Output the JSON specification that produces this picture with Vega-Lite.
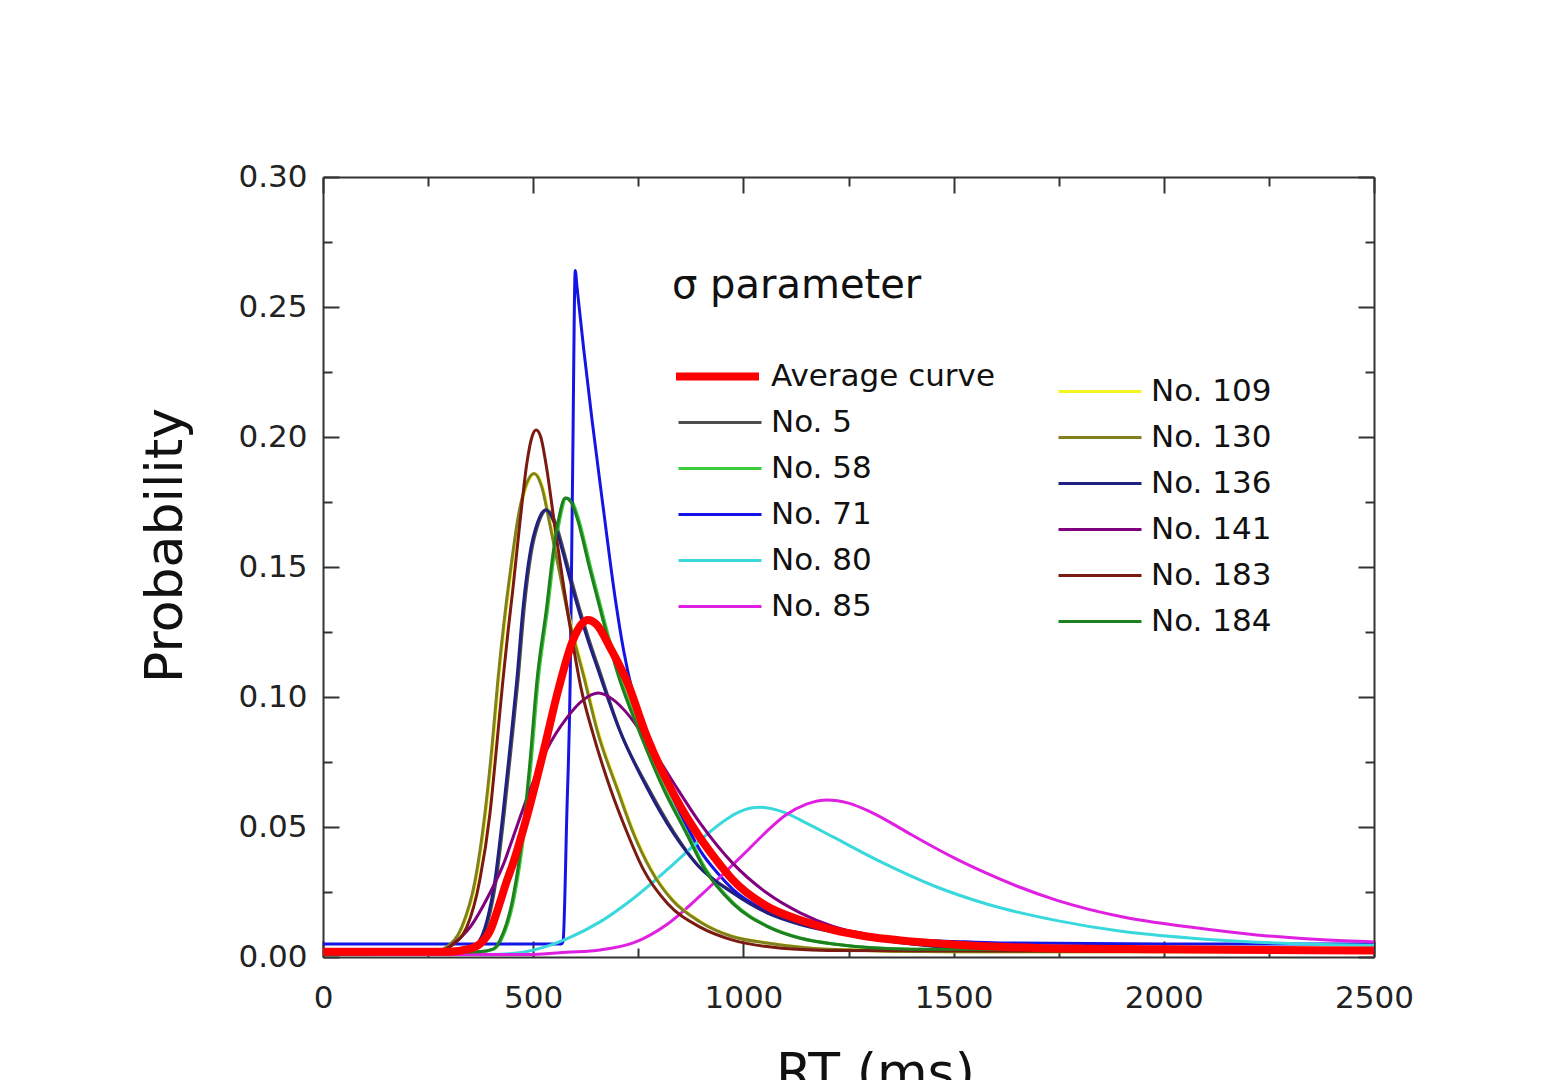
{
  "$schema": "https://vega.github.io/schema/vega-lite/v6.json",
  "width": 1051,
  "height": 780,
  "autosize": {"type": "none"},
  "padding": {"left": 323, "top": 177, "right": 171, "bottom": 123},
  "background": "white",
  "config": {
    "view": {"stroke": null},
    "legend": {"padding": 0, "labelFont": "DejaVu Sans", "labelFontSize": 31, "labelColor": "#111111", "labelOffset": 8, "symbolType": "stroke", "symbolSize": 6889, "clipHeight": 31, "rowPadding": 14, "titleFont": "DejaVu Sans", "titleFontSize": 40, "titleFontWeight": "normal", "titleColor": "#111111", "titlePadding": 55, "titleLimit": 600, "labelLimit": 600},
    "axis": {"grid": false, "domainColor": "#333333", "domainWidth": 2, "tickColor": "#333333", "tickWidth": 2, "labelFont": "DejaVu Sans", "labelFontSize": 31, "labelColor": "#222222", "labelFlush": false, "labelOverlap": false, "titleFont": "DejaVu Sans", "titleFontWeight": "normal", "titleColor": "#111111"}
  },
  "data": {"values": [
    {"s":"Average curve","x":0,"y":0.002},{"s":"Average curve","x":300,"y":0.002},{"s":"Average curve","x":345,"y":0.003},{"s":"Average curve","x":373,"y":0.005},{"s":"Average curve","x":400,"y":0.011},{"s":"Average curve","x":413,"y":0.017},{"s":"Average curve","x":438,"y":0.0296},{"s":"Average curve","x":452,"y":0.036},{"s":"Average curve","x":485,"y":0.054},{"s":"Average curve","x":523,"y":0.078},{"s":"Average curve","x":560,"y":0.103},{"s":"Average curve","x":595,"y":0.122},{"s":"Average curve","x":615,"y":0.128},{"s":"Average curve","x":630,"y":0.1296},{"s":"Average curve","x":650,"y":0.128},{"s":"Average curve","x":683,"y":0.119},{"s":"Average curve","x":723,"y":0.106},{"s":"Average curve","x":771,"y":0.0845},{"s":"Average curve","x":825,"y":0.0655},{"s":"Average curve","x":880,"y":0.05},{"s":"Average curve","x":937,"y":0.037},{"s":"Average curve","x":975,"y":0.0296},{"s":"Average curve","x":1056,"y":0.0195},{"s":"Average curve","x":1135,"y":0.0142},{"s":"Average curve","x":1213,"y":0.0104},{"s":"Average curve","x":1294,"y":0.0079},{"s":"Average curve","x":1373,"y":0.0064},{"s":"Average curve","x":1500,"y":0.0048},{"s":"Average curve","x":1700,"y":0.0035},{"s":"Average curve","x":2000,"y":0.003},{"s":"Average curve","x":2500,"y":0.0025},

    {"s":"No. 5","x":0,"y":0.001},{"s":"No. 5","x":333,"y":0.002},{"s":"No. 5","x":369,"y":0.005},{"s":"No. 5","x":393,"y":0.014},{"s":"No. 5","x":412,"y":0.0296},{"s":"No. 5","x":431,"y":0.055},{"s":"No. 5","x":448,"y":0.081},{"s":"No. 5","x":464,"y":0.1065},{"s":"No. 5","x":479,"y":0.1346},{"s":"No. 5","x":495,"y":0.155},{"s":"No. 5","x":513,"y":0.167},{"s":"No. 5","x":533,"y":0.172},{"s":"No. 5","x":553,"y":0.167},{"s":"No. 5","x":573,"y":0.156},{"s":"No. 5","x":591,"y":0.145},{"s":"No. 5","x":631,"y":0.123},{"s":"No. 5","x":655,"y":0.1115},{"s":"No. 5","x":709,"y":0.086},{"s":"No. 5","x":774,"y":0.065},{"s":"No. 5","x":836,"y":0.0477},{"s":"No. 5","x":893,"y":0.035},{"s":"No. 5","x":978,"y":0.0246},{"s":"No. 5","x":1059,"y":0.017},{"s":"No. 5","x":1138,"y":0.013},{"s":"No. 5","x":1257,"y":0.0085},{"s":"No. 5","x":1403,"y":0.005},{"s":"No. 5","x":1603,"y":0.003},{"s":"No. 5","x":2500,"y":0.002},

    {"s":"No. 58","x":0,"y":0.001},{"s":"No. 58","x":373,"y":0.002},{"s":"No. 58","x":407,"y":0.003},{"s":"No. 58","x":424,"y":0.0065},{"s":"No. 58","x":455,"y":0.023},{"s":"No. 58","x":479,"y":0.0488},{"s":"No. 58","x":495,"y":0.0746},{"s":"No. 58","x":512,"y":0.1065},{"s":"No. 58","x":535,"y":0.1346},{"s":"No. 58","x":550,"y":0.155},{"s":"No. 58","x":563,"y":0.168},{"s":"No. 58","x":579,"y":0.1765},{"s":"No. 58","x":593,"y":0.175},{"s":"No. 58","x":607,"y":0.169},{"s":"No. 58","x":638,"y":0.149},{"s":"No. 58","x":669,"y":0.1296},{"s":"No. 58","x":702,"y":0.11},{"s":"No. 58","x":757,"y":0.086},{"s":"No. 58","x":812,"y":0.065},{"s":"No. 58","x":869,"y":0.047},{"s":"No. 58","x":908,"y":0.0345},{"s":"No. 58","x":978,"y":0.0205},{"s":"No. 58","x":1059,"y":0.0118},{"s":"No. 58","x":1138,"y":0.0072},{"s":"No. 58","x":1216,"y":0.005},{"s":"No. 58","x":1403,"y":0.003},{"s":"No. 58","x":2500,"y":0.0025},

    {"s":"No. 71","x":0,"y":0.005},{"s":"No. 71","x":566,"y":0.005},{"s":"No. 71","x":571,"y":0.006},{"s":"No. 71","x":580,"y":0.055},{"s":"No. 71","x":588,"y":0.1065},{"s":"No. 71","x":594,"y":0.19},{"s":"No. 71","x":600,"y":0.264},{"s":"No. 71","x":604,"y":0.258},{"s":"No. 71","x":620,"y":0.234},{"s":"No. 71","x":640,"y":0.2065},{"s":"No. 71","x":668,"y":0.171},{"s":"No. 71","x":695,"y":0.138},{"s":"No. 71","x":715,"y":0.118},{"s":"No. 71","x":737,"y":0.1015},{"s":"No. 71","x":760,"y":0.089},{"s":"No. 71","x":790,"y":0.076},{"s":"No. 71","x":830,"y":0.062},{"s":"No. 71","x":870,"y":0.049},{"s":"No. 71","x":897,"y":0.041},{"s":"No. 71","x":940,"y":0.032},{"s":"No. 71","x":975,"y":0.026},{"s":"No. 71","x":1056,"y":0.0175},{"s":"No. 71","x":1135,"y":0.0128},{"s":"No. 71","x":1254,"y":0.0088},{"s":"No. 71","x":1373,"y":0.0069},{"s":"No. 71","x":1500,"y":0.006},{"s":"No. 71","x":1610,"y":0.0054},{"s":"No. 71","x":2000,"y":0.005},{"s":"No. 71","x":2500,"y":0.005},

    {"s":"No. 80","x":0,"y":0.001},{"s":"No. 80","x":400,"y":0.001},{"s":"No. 80","x":461,"y":0.0015},{"s":"No. 80","x":520,"y":0.0035},{"s":"No. 80","x":580,"y":0.007},{"s":"No. 80","x":659,"y":0.0135},{"s":"No. 80","x":738,"y":0.0225},{"s":"No. 80","x":818,"y":0.0335},{"s":"No. 80","x":897,"y":0.045},{"s":"No. 80","x":960,"y":0.053},{"s":"No. 80","x":990,"y":0.0558},{"s":"No. 80","x":1015,"y":0.0572},{"s":"No. 80","x":1040,"y":0.0576},{"s":"No. 80","x":1065,"y":0.0571},{"s":"No. 80","x":1094,"y":0.0558},{"s":"No. 80","x":1150,"y":0.0515},{"s":"No. 80","x":1213,"y":0.0462},{"s":"No. 80","x":1332,"y":0.0362},{"s":"No. 80","x":1451,"y":0.0275},{"s":"No. 80","x":1587,"y":0.02},{"s":"No. 80","x":1746,"y":0.014},{"s":"No. 80","x":1903,"y":0.0098},{"s":"No. 80","x":2062,"y":0.0073},{"s":"No. 80","x":2221,"y":0.0057},{"s":"No. 80","x":2379,"y":0.0048},{"s":"No. 80","x":2500,"y":0.0045},

    {"s":"No. 85","x":0,"y":0.001},{"s":"No. 85","x":500,"y":0.001},{"s":"No. 85","x":580,"y":0.0018},{"s":"No. 85","x":659,"y":0.0027},{"s":"No. 85","x":738,"y":0.0054},{"s":"No. 85","x":818,"y":0.0125},{"s":"No. 85","x":897,"y":0.0235},{"s":"No. 85","x":975,"y":0.0355},{"s":"No. 85","x":1016,"y":0.042},{"s":"No. 85","x":1056,"y":0.0484},{"s":"No. 85","x":1100,"y":0.0545},{"s":"No. 85","x":1150,"y":0.0588},{"s":"No. 85","x":1199,"y":0.0604},{"s":"No. 85","x":1250,"y":0.0592},{"s":"No. 85","x":1300,"y":0.056},{"s":"No. 85","x":1350,"y":0.0517},{"s":"No. 85","x":1400,"y":0.047},{"s":"No. 85","x":1451,"y":0.0424},{"s":"No. 85","x":1500,"y":0.0382},{"s":"No. 85","x":1570,"y":0.0328},{"s":"No. 85","x":1650,"y":0.0273},{"s":"No. 85","x":1746,"y":0.0218},{"s":"No. 85","x":1903,"y":0.0154},{"s":"No. 85","x":2062,"y":0.0115},{"s":"No. 85","x":2221,"y":0.0085},{"s":"No. 85","x":2379,"y":0.0066},{"s":"No. 85","x":2500,"y":0.0058},

    {"s":"No. 109","x":0,"y":0.002},{"s":"No. 109","x":262,"y":0.002},{"s":"No. 109","x":297,"y":0.004},{"s":"No. 109","x":332,"y":0.0115},{"s":"No. 109","x":364,"y":0.0296},{"s":"No. 109","x":387,"y":0.055},{"s":"No. 109","x":404,"y":0.081},{"s":"No. 109","x":418,"y":0.1065},{"s":"No. 109","x":432,"y":0.128},{"s":"No. 109","x":449,"y":0.15},{"s":"No. 109","x":467,"y":0.17},{"s":"No. 109","x":486,"y":0.182},{"s":"No. 109","x":504,"y":0.186},{"s":"No. 109","x":522,"y":0.181},{"s":"No. 109","x":542,"y":0.166},{"s":"No. 109","x":562,"y":0.15},{"s":"No. 109","x":587,"y":0.13},{"s":"No. 109","x":622,"y":0.108},{"s":"No. 109","x":656,"y":0.086},{"s":"No. 109","x":701,"y":0.065},{"s":"No. 109","x":740,"y":0.0477},{"s":"No. 109","x":780,"y":0.034},{"s":"No. 109","x":832,"y":0.022},{"s":"No. 109","x":899,"y":0.0135},{"s":"No. 109","x":977,"y":0.0078},{"s":"No. 109","x":1058,"y":0.0054},{"s":"No. 109","x":1202,"y":0.003},{"s":"No. 109","x":1502,"y":0.002},{"s":"No. 109","x":2500,"y":0.002},

    {"s":"No. 130","x":0,"y":0.002},{"s":"No. 130","x":260,"y":0.002},{"s":"No. 130","x":295,"y":0.004},{"s":"No. 130","x":330,"y":0.0115},{"s":"No. 130","x":362,"y":0.0296},{"s":"No. 130","x":385,"y":0.055},{"s":"No. 130","x":402,"y":0.081},{"s":"No. 130","x":416,"y":0.1065},{"s":"No. 130","x":430,"y":0.128},{"s":"No. 130","x":447,"y":0.15},{"s":"No. 130","x":465,"y":0.17},{"s":"No. 130","x":484,"y":0.182},{"s":"No. 130","x":502,"y":0.186},{"s":"No. 130","x":520,"y":0.181},{"s":"No. 130","x":540,"y":0.166},{"s":"No. 130","x":560,"y":0.15},{"s":"No. 130","x":585,"y":0.13},{"s":"No. 130","x":620,"y":0.108},{"s":"No. 130","x":654,"y":0.086},{"s":"No. 130","x":699,"y":0.065},{"s":"No. 130","x":738,"y":0.0477},{"s":"No. 130","x":778,"y":0.034},{"s":"No. 130","x":830,"y":0.022},{"s":"No. 130","x":897,"y":0.0135},{"s":"No. 130","x":975,"y":0.0078},{"s":"No. 130","x":1056,"y":0.0054},{"s":"No. 130","x":1200,"y":0.003},{"s":"No. 130","x":1500,"y":0.002},{"s":"No. 130","x":2500,"y":0.002},

    {"s":"No. 136","x":0,"y":0.001},{"s":"No. 136","x":330,"y":0.002},{"s":"No. 136","x":366,"y":0.005},{"s":"No. 136","x":390,"y":0.014},{"s":"No. 136","x":409,"y":0.0296},{"s":"No. 136","x":428,"y":0.055},{"s":"No. 136","x":445,"y":0.081},{"s":"No. 136","x":461,"y":0.1065},{"s":"No. 136","x":476,"y":0.1346},{"s":"No. 136","x":492,"y":0.155},{"s":"No. 136","x":510,"y":0.167},{"s":"No. 136","x":530,"y":0.172},{"s":"No. 136","x":550,"y":0.167},{"s":"No. 136","x":570,"y":0.156},{"s":"No. 136","x":588,"y":0.145},{"s":"No. 136","x":628,"y":0.123},{"s":"No. 136","x":652,"y":0.1115},{"s":"No. 136","x":706,"y":0.087},{"s":"No. 136","x":771,"y":0.065},{"s":"No. 136","x":833,"y":0.0477},{"s":"No. 136","x":890,"y":0.0355},{"s":"No. 136","x":975,"y":0.0246},{"s":"No. 136","x":1056,"y":0.017},{"s":"No. 136","x":1135,"y":0.0125},{"s":"No. 136","x":1254,"y":0.0085},{"s":"No. 136","x":1400,"y":0.005},{"s":"No. 136","x":1600,"y":0.003},{"s":"No. 136","x":2500,"y":0.002},

    {"s":"No. 141","x":0,"y":0.001},{"s":"No. 141","x":280,"y":0.002},{"s":"No. 141","x":309,"y":0.005},{"s":"No. 141","x":350,"y":0.0115},{"s":"No. 141","x":397,"y":0.0246},{"s":"No. 141","x":430,"y":0.036},{"s":"No. 141","x":452,"y":0.046},{"s":"No. 141","x":485,"y":0.061},{"s":"No. 141","x":533,"y":0.08},{"s":"No. 141","x":580,"y":0.092},{"s":"No. 141","x":620,"y":0.099},{"s":"No. 141","x":655,"y":0.1015},{"s":"No. 141","x":690,"y":0.099},{"s":"No. 141","x":723,"y":0.0938},{"s":"No. 141","x":771,"y":0.083},{"s":"No. 141","x":830,"y":0.068},{"s":"No. 141","x":897,"y":0.0515},{"s":"No. 141","x":975,"y":0.036},{"s":"No. 141","x":1056,"y":0.0246},{"s":"No. 141","x":1135,"y":0.017},{"s":"No. 141","x":1213,"y":0.0118},{"s":"No. 141","x":1294,"y":0.0087},{"s":"No. 141","x":1373,"y":0.0067},{"s":"No. 141","x":1491,"y":0.0054},{"s":"No. 141","x":1700,"y":0.004},{"s":"No. 141","x":2000,"y":0.0032},{"s":"No. 141","x":2500,"y":0.003},

    {"s":"No. 183","x":0,"y":0.002},{"s":"No. 183","x":270,"y":0.002},{"s":"No. 183","x":302,"y":0.004},{"s":"No. 183","x":342,"y":0.0115},{"s":"No. 183","x":373,"y":0.0296},{"s":"No. 183","x":397,"y":0.055},{"s":"No. 183","x":413,"y":0.081},{"s":"No. 183","x":428,"y":0.1065},{"s":"No. 183","x":440,"y":0.125},{"s":"No. 183","x":452,"y":0.142},{"s":"No. 183","x":469,"y":0.168},{"s":"No. 183","x":485,"y":0.19},{"s":"No. 183","x":497,"y":0.2},{"s":"No. 183","x":507,"y":0.2027},{"s":"No. 183","x":518,"y":0.2},{"s":"No. 183","x":530,"y":0.19},{"s":"No. 183","x":552,"y":0.165},{"s":"No. 183","x":573,"y":0.142},{"s":"No. 183","x":595,"y":0.12},{"s":"No. 183","x":613,"y":0.104},{"s":"No. 183","x":642,"y":0.086},{"s":"No. 183","x":683,"y":0.065},{"s":"No. 183","x":723,"y":0.048},{"s":"No. 183","x":761,"y":0.034},{"s":"No. 183","x":820,"y":0.0205},{"s":"No. 183","x":897,"y":0.0115},{"s":"No. 183","x":975,"y":0.0065},{"s":"No. 183","x":1056,"y":0.004},{"s":"No. 183","x":1200,"y":0.0025},{"s":"No. 183","x":2500,"y":0.002},

    {"s":"No. 184","x":0,"y":0.001},{"s":"No. 184","x":370,"y":0.002},{"s":"No. 184","x":404,"y":0.003},{"s":"No. 184","x":421,"y":0.0065},{"s":"No. 184","x":452,"y":0.023},{"s":"No. 184","x":476,"y":0.0488},{"s":"No. 184","x":492,"y":0.0746},{"s":"No. 184","x":509,"y":0.1065},{"s":"No. 184","x":532,"y":0.1346},{"s":"No. 184","x":547,"y":0.155},{"s":"No. 184","x":560,"y":0.168},{"s":"No. 184","x":576,"y":0.1765},{"s":"No. 184","x":590,"y":0.175},{"s":"No. 184","x":604,"y":0.169},{"s":"No. 184","x":635,"y":0.149},{"s":"No. 184","x":666,"y":0.1296},{"s":"No. 184","x":699,"y":0.11},{"s":"No. 184","x":754,"y":0.086},{"s":"No. 184","x":809,"y":0.065},{"s":"No. 184","x":866,"y":0.047},{"s":"No. 184","x":905,"y":0.0345},{"s":"No. 184","x":975,"y":0.0205},{"s":"No. 184","x":1056,"y":0.0118},{"s":"No. 184","x":1135,"y":0.0072},{"s":"No. 184","x":1213,"y":0.005},{"s":"No. 184","x":1400,"y":0.003},{"s":"No. 184","x":2500,"y":0.0025}
  ]},
  "resolve": {"scale": {"color": "independent"}, "axis": {"x": "independent", "y": "independent"}, "legend": {"color": "independent"}},
  "layer": [
    {
      "transform": [{"filter": {"field": "s", "oneOf": ["No. 5", "No. 58", "No. 71", "No. 80", "No. 85"]}}],
      "mark": {"type": "line", "strokeWidth": 3, "interpolate": "monotone", "clip": true},
      "encoding": {
        "x": {"field": "x", "type": "quantitative", "scale": {"domain": [0, 2500], "nice": false, "zero": false},
          "axis": {"orient": "bottom", "values": [0,250,500,750,1000,1250,1500,1750,2000,2250,2500], "format": "d",
            "labelExpr": "datum.value % 500 === 0 ? datum.label : ''",
            "tickSize": {"condition": {"test": "datum.value % 500 !== 0", "value": -9}, "value": -16},
            "labelPadding": 42, "title": "RT (ms)", "titleFontSize": 52, "titlePadding": 28, "titleX": 552}},
        "y": {"field": "y", "type": "quantitative", "scale": {"domain": [0, 0.3], "nice": false, "zero": false},
          "axis": {"orient": "left", "values": [0,0.025,0.05,0.075,0.1,0.125,0.15,0.175,0.2,0.225,0.25,0.275,0.3], "format": ".2f",
            "labelExpr": "round(datum.value * 1000) % 50 === 0 ? datum.label : ''",
            "tickSize": {"condition": {"test": "round(datum.value * 1000) % 50 !== 0", "value": -9}, "value": -16},
            "labelPadding": 32, "title": "Probability", "titleFontSize": 52, "titlePadding": 45, "titleY": 368}},
        "color": {"field": "s", "type": "nominal",
          "scale": {"domain": ["No. 5", "No. 58", "No. 71", "No. 80", "No. 85"], "range": ["#4d4d4d", "#3ccc3c", "#1414e6", "#38d8dc", "#e020e0"]},
          "legend": {"title": null, "orient": "none", "legendX": 354, "legendY": 230, "symbolStrokeWidth": 3}}
      }
    },
    {
      "transform": [{"filter": {"field": "s", "oneOf": ["No. 109", "No. 130", "No. 136", "No. 141", "No. 183", "No. 184"]}}],
      "mark": {"type": "line", "strokeWidth": 3, "interpolate": "monotone", "clip": true},
      "encoding": {
        "x": {"field": "x", "type": "quantitative", "scale": {"domain": [0, 2500], "nice": false, "zero": false}, "axis": null},
        "y": {"field": "y", "type": "quantitative", "scale": {"domain": [0, 0.3], "nice": false, "zero": false}, "axis": null},
        "color": {"field": "s", "type": "nominal",
          "scale": {"domain": ["No. 109", "No. 130", "No. 136", "No. 141", "No. 183", "No. 184"], "range": ["#f5f51e", "#808020", "#202080", "#800080", "#7a1a10", "#1e801e"]},
          "legend": {"title": null, "orient": "none", "legendX": 734, "legendY": 199, "symbolStrokeWidth": 3}}
      }
    },
    {
      "transform": [{"filter": {"field": "s", "equal": "Average curve"}}],
      "mark": {"type": "line", "strokeWidth": 8, "interpolate": "monotone", "clip": true},
      "encoding": {
        "x": {"field": "x", "type": "quantitative", "scale": {"domain": [0, 2500], "nice": false, "zero": false},
          "axis": {"orient": "top", "values": [0,250,500,750,1000,1250,1500,1750,2000,2250,2500], "labels": false, "title": null,
            "tickSize": {"condition": {"test": "datum.value % 500 !== 0", "value": -9}, "value": -16}}},
        "y": {"field": "y", "type": "quantitative", "scale": {"domain": [0, 0.3], "nice": false, "zero": false},
          "axis": {"orient": "right", "values": [0,0.025,0.05,0.075,0.1,0.125,0.15,0.175,0.2,0.225,0.25,0.275,0.3], "labels": false, "title": null,
            "tickSize": {"condition": {"test": "round(datum.value * 1000) % 50 !== 0", "value": -9}, "value": -16}}},
        "color": {"field": "s", "type": "nominal",
          "scale": {"domain": ["Average curve"], "range": ["#ff0000"]},
          "legend": {"title": "σ parameter", "orient": "none", "legendX": 349, "legendY": 89, "symbolStrokeWidth": 8}}
      }
    }
  ]
}
